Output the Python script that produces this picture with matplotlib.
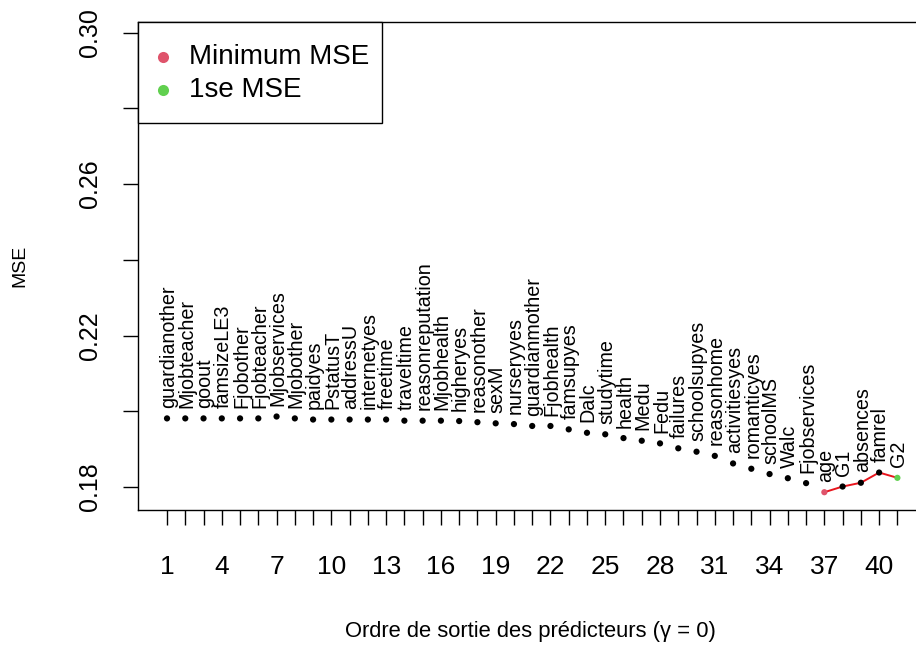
import matplotlib
matplotlib.use("Agg")
import matplotlib.pyplot as plt
from matplotlib.lines import Line2D
from matplotlib.patches import Rectangle

plt.rcParams['font.family'] = ['Liberation Sans', 'DejaVu Sans']

# Predictor exit order and cross-validated MSE at each step
predictors = [
    "guardianother", "Mjobteacher", "goout", "famsizeLE3", "Fjobother",
    "Fjobteacher", "Mjobservices", "Mjobother", "paidyes", "PstatusT",
    "addressU", "internetyes", "freetime", "traveltime", "reasonreputation",
    "Mjobhealth", "higheryes", "reasonother", "sexM", "nurseryyes",
    "guardianmother", "Fjobhealth", "famsupyes", "Dalc", "studytime",
    "health", "Medu", "Fedu", "failures", "schoolsupyes",
    "reasonhome", "activitiesyes", "romanticyes", "schoolMS", "Walc",
    "Fjobservices", "age", "G1", "absences", "famrel", "G2",
]
mse = [
    0.1981, 0.1981, 0.1981, 0.1981, 0.1981,
    0.1981, 0.1986, 0.1981, 0.1978, 0.1978,
    0.1978, 0.1978, 0.1978, 0.1975, 0.1975,
    0.1975, 0.1974, 0.1971, 0.1968, 0.1966,
    0.1961, 0.1961, 0.1952, 0.1943, 0.1939,
    0.1929, 0.1922, 0.1915, 0.1902, 0.1893,
    0.1882, 0.1862, 0.1848, 0.1834, 0.1823,
    0.1810, 0.1786, 0.1801, 0.1811, 0.1838,
    0.1824,
]
order = list(range(1, len(predictors) + 1))

# Highlighted models and the segment joining them
min_idx = 37
se1_idx = 41
legend_labels = ["Minimum MSE", "1se MSE"]
col_min = "#DF536B"
col_1se = "#61D04F"

x_ticks = order
x_ticklabels = [str(i) if (i - 1) % 3 == 0 else "" for i in order]
y_ticks = [0.18, 0.20, 0.22, 0.24, 0.26, 0.28, 0.30]
y_ticklabels = ["0.18", "", "0.22", "", "0.26", "", "0.30"]

W, H = 916, 646
fig = plt.figure(figsize=(W / 100, H / 100), dpi=100)


def fx(px):
    return px / W


def fy(py):
    return 1 - py / H


left_px, right_px, top_px, bottom_px = 137.8, 926.6, 22.0, 510.0
ax = fig.add_axes([fx(left_px), fy(bottom_px),
                   fx(right_px - left_px), (bottom_px - top_px) / H])
ax.set_xlim(-0.6, 42.6)
ax.set_ylim(0.17390, 0.30283)

for s in ("left", "bottom", "top", "right"):
    ax.spines[s].set_linewidth(1.0)
    ax.spines[s].set_color("black")

ax.set_xticks(x_ticks)
ax.set_xticklabels(x_ticklabels, fontsize=19)
ax.set_yticks(y_ticks)
ax.set_yticklabels(y_ticklabels, fontsize=18, rotation=90, va="center")
ax.tick_params(axis="both", length=11, width=1.0, color="black")
ax.tick_params(axis="x", pad=21.5)
ax.tick_params(axis="y", pad=15)

# Segment from the minimum-MSE model to the 1se model
seg_x = order[min_idx - 1:se1_idx]
seg_y = mse[min_idx - 1:se1_idx]
ax.plot(seg_x, seg_y, color="#E8141C", lw=1.4, zorder=2)

colors = []
for i in order:
    if i == min_idx:
        colors.append(col_min)
    elif i == se1_idx:
        colors.append(col_1se)
    else:
        colors.append("black")
ax.scatter(order, mse, s=20, c=colors, edgecolors="none", zorder=3)

for xi, yi, name in zip(order, mse, predictors):
    ax.annotate(name, (xi, yi), xytext=(1.0, 7.5), textcoords="offset points",
                rotation=90, ha="center", va="bottom", fontsize=14.2,
                annotation_clip=False)

# Axis titles
fig.text(fx(530), fy(631), "Ordre de sortie des prédicteurs (γ = 0)",
         ha="center", va="center", fontsize=15.8)
fig.text(fx(20), fy(266), "MSE", ha="center", va="center",
         rotation=90, fontsize=14)

# Legend box in the top-left corner
fig.add_artist(Rectangle((fx(137.8), fy(123)), fx(382 - 137.8), (123 - 22) / H,
                         transform=fig.transFigure, facecolor="white",
                         edgecolor="black", lw=1.0, zorder=5))
for k, (lab, col) in enumerate(zip(legend_labels, [col_min, col_1se])):
    yy = 57 + 33 * k
    fig.add_artist(Line2D([fx(163)], [fy(yy)], marker="o", ms=8, color=col,
                          mec="none", ls="none", transform=fig.transFigure,
                          zorder=6))
    fig.text(fx(189), fy(yy), lab, ha="left", va="center", fontsize=20,
             zorder=6)

fig.savefig("out.png", dpi=100)
